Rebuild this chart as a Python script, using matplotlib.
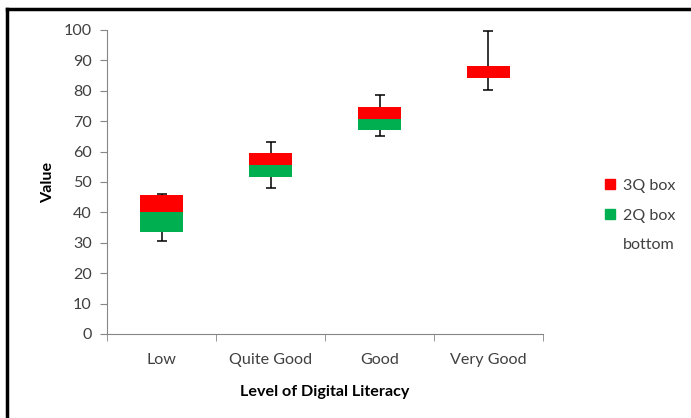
import numpy as np
import matplotlib.pyplot as plt
from matplotlib.lines import Line2D

categories = ["Low", "Quite Good", "Good", "Very Good"]

# Five-number summary per level.
minimum = [30.6, 47.9, 65.0, 80.3]
q1 = [33.5, 51.6, 67.0, 84.1]
median = [40.1, 55.6, 70.8, 84.1]
q3 = [45.8, 59.4, 74.5, 88.1]
maximum = [46.1, 63.0, 78.5, 99.8]

red = "#FF0000"
green = "#00B050"
axis_grey = "#868686"
text_color = "#404040"

plt.rcParams['font.family'] = ['Lato', 'DejaVu Sans']


def main():
    fig = plt.figure(figsize=(6.91, 4.18), dpi=100)
    ax = fig.add_axes([0.1549, 0.2010, 0.6309, 0.7273])

    x = np.arange(len(categories))
    q1_arr = np.array(q1)
    box2 = np.array(median) - q1_arr
    box3 = np.array(q3) - np.array(median)

    # Stacked bars: invisible bottom, then 2Q and 3Q boxes.
    ax.bar(x, q1_arr, width=0.4, color="none", label="bottom")
    ax.bar(x, box2, width=0.4, bottom=q1_arr, color=green, label="2Q box")
    ax.bar(x, box3, width=0.4, bottom=median, color=red, label="3Q box")

    # Whiskers
    ax.vlines(x, minimum, q1, color="black", lw=1.1, zorder=3)
    ax.vlines(x, q3, maximum, color="black", lw=1.1, zorder=3)
    ax.scatter(x, minimum, marker="_", s=60, color="black", lw=1.1, zorder=3)
    ax.scatter(x, maximum, marker="_", s=60, color="black", lw=1.1, zorder=3)

    ax.set_xlim(-0.5, len(categories) - 0.5)
    ax.set_ylim(0, 100)
    ax.set_yticks(np.arange(0, 101, 10))
    ax.set_xticks(x)
    ax.set_xticklabels(categories)
    ax.set_xticks(np.arange(-0.5, len(categories), 1), minor=True)
    ax.tick_params(axis="x", which="major", length=0, pad=14,
                   labelsize=11.6, labelcolor=text_color)
    ax.tick_params(axis="x", which="minor", length=5, color=axis_grey)
    ax.tick_params(axis="y", length=5, color=axis_grey, pad=6,
                   labelsize=11.6, labelcolor=text_color)

    for side in ["top", "right"]:
        ax.spines[side].set_visible(False)
    for side in ["left", "bottom"]:
        ax.spines[side].set_color(axis_grey)

    ax.set_ylabel("Value", fontweight="bold", fontsize=11.6, labelpad=6)
    ax.set_xlabel("Level of Digital Literacy", fontweight="bold",
                  fontsize=11.6, labelpad=13)

    handles = [
        Line2D([], [], marker="s", ls="none", color=red, markersize=7),
        Line2D([], [], marker="s", ls="none", color=green, markersize=7),
        Line2D([], [], marker="s", ls="none", color="none", markersize=7),
    ]
    fig.legend(handles, ["3Q box", "2Q box", "bottom"], loc="upper left",
               bbox_to_anchor=(0.855, 0.607), frameon=False, fontsize=11.6,
               labelspacing=0.95, handlelength=0.6, handletextpad=0.5,
               labelcolor=text_color)

    # Outer frame (left and top edges)
    fig.add_artist(Line2D([0.0106, 0.0106], [0.0, 0.978],
                          transform=fig.transFigure, color="black", lw=2.5))
    fig.add_artist(Line2D([0.0106, 1.0], [0.978, 0.978],
                          transform=fig.transFigure, color="black", lw=2.5))

    fig.savefig("out.png", dpi=100)


if __name__ == "__main__":
    main()
